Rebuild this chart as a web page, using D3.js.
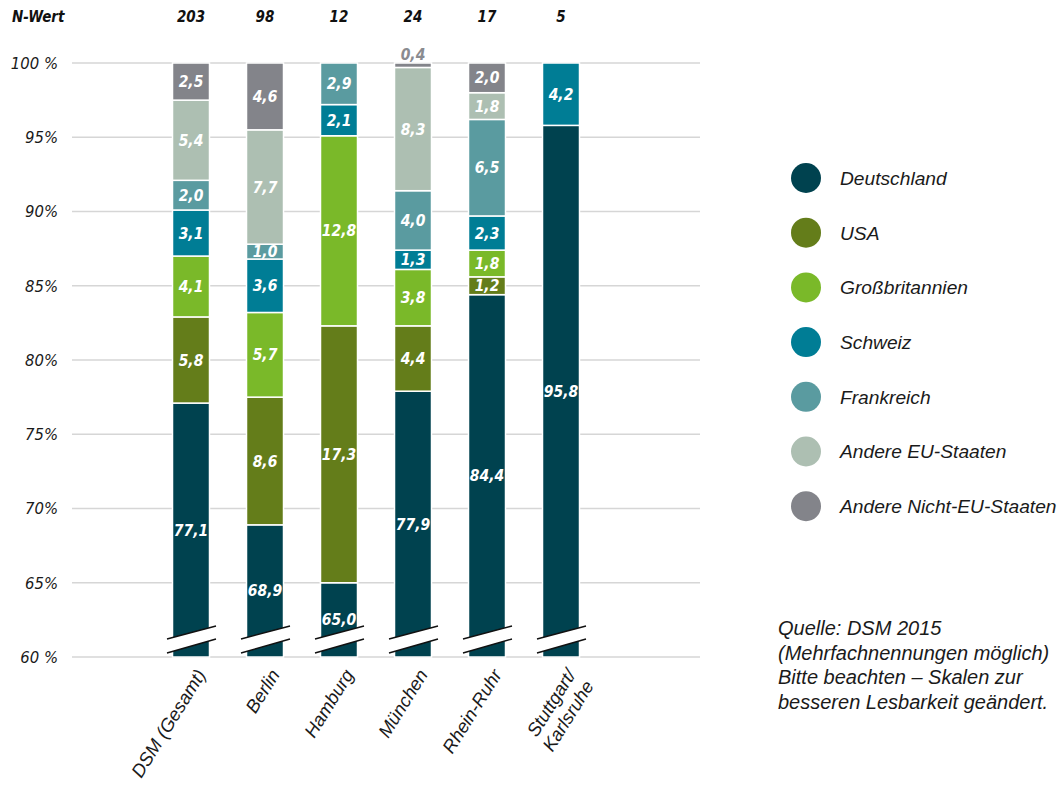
<!DOCTYPE html>
<html>
<head>
<meta charset="utf-8">
<script src="https://cdn.jsdelivr.net/npm/d3@7"></script>
<style>
  html, body { margin: 0; padding: 0; background: #fff; }
  svg { display: block; }
  .narrow { font-family: "Liberation Sans Narrow", "DejaVu Sans Condensed", "Liberation Sans", sans-serif; }
  .wide { font-family: "Liberation Sans", Arial, sans-serif; }
</style>
</head>
<body>
<svg id="chart" width="1062" height="785"></svg>
<script>
// Regions and sample sizes
const categories = ["DSM (Gesamt)", "Berlin", "Hamburg", "München", "Rhein-Ruhr", "Stuttgart/Karlsruhe"];
const nValues = [203, 98, 12, 24, 17, 5];

// Share of founders by origin, per region (%)
const seriesNames = ["Deutschland", "USA", "Großbritannien", "Schweiz", "Frankreich", "Andere EU-Staaten", "Andere Nicht-EU-Staaten"];
const deutschland = [77.1, 68.9, 65.0, 77.9, 84.4, 95.8];
const usa = [5.8, 8.6, 17.3, 4.4, 1.2, 0];
const grossbritannien = [4.1, 5.7, 12.8, 3.8, 1.8, 0];
const schweiz = [3.1, 3.6, 2.1, 1.3, 2.3, 4.2];
const frankreich = [2.0, 1.0, 2.9, 4.0, 6.5, 0];
const andereEU = [5.4, 7.7, 0, 8.3, 1.8, 0];
const andereNichtEU = [2.5, 4.6, 0, 0.4, 2.0, 0];

const yTicks = [60, 65, 70, 75, 80, 85, 90, 95, 100];
const yTickLabels = ["60 %", "65%", "70%", "75%", "80%", "85%", "90%", "95%", "100 %"];

const colors = ["#00424f", "#647d1a", "#7ab929", "#007d95", "#5a9ba0", "#adbfb2", "#83848a"];
const sourceLines = ["Quelle: DSM 2015", "(Mehrfachnennungen möglich)", "Bitte beachten – Skalen zur", "besseren Lesbarkeit geändert."];

// Build table for d3.stack
const seriesValues = [deutschland, usa, grossbritannien, schweiz, frankreich, andereEU, andereNichtEU];
const table = categories.map((c, i) => {
  const row = { cat: c };
  seriesNames.forEach((s, j) => row[s] = seriesValues[j][i]);
  return row;
});
const stacked = d3.stack().keys(seriesNames)(table);

const svg = d3.select("#chart");

const x = d3.scaleBand().domain(categories).range([154, 598]).paddingInner(0.5).paddingOuter(0.25);
const y = d3.scaleLinear().domain([60, 100]).range([657, 63]).clamp(true);
const color = d3.scaleOrdinal().domain(seriesNames).range(colors);
const fmt = v => d3.format(".1f")(v).replace(".", ",");
const cx = d => x(d) + x.bandwidth() / 2;

// Gridlines
svg.append("g").selectAll("line").data(yTicks).join("line")
  .attr("x1", 72).attr("x2", 700)
  .attr("y1", d => y(d)).attr("y2", d => y(d))
  .attr("stroke", "#d6d6d6").attr("stroke-width", 1.5);

// Y axis labels
svg.append("g").attr("class", "narrow").selectAll("text").data(yTicks).join("text")
  .attr("x", 58).attr("y", d => y(d)).attr("dy", "0.36em")
  .attr("text-anchor", "end").attr("font-style", "italic")
  .attr("font-size", 16.5).attr("fill", "#1a1a1a")
  .text((d, i) => yTickLabels[i]);

// N-Wert header
svg.append("text").attr("class", "narrow")
  .attr("x", 12).attr("y", 22)
  .attr("font-weight", "bold").attr("font-style", "italic").attr("font-size", 15)
  .attr("fill", "#111").text("N-Wert");
svg.append("g").attr("class", "narrow").selectAll("text").data(categories).join("text")
  .attr("x", cx).attr("y", 22)
  .attr("text-anchor", "middle")
  .attr("font-weight", "bold").attr("font-style", "italic").attr("font-size", 15)
  .attr("fill", "#111").text((d, i) => nValues[i]);

// Stacked bars
const layers = svg.append("g").selectAll("g").data(stacked).join("g")
  .attr("fill", d => color(d.key));
layers.selectAll("rect").data(d => d.filter(p => p[1] - p[0] > 0)).join("rect")
  .attr("x", d => x(d.data.cat))
  .attr("width", x.bandwidth())
  .attr("y", d => y(d[1]))
  .attr("height", d => y(d[0]) - y(d[1]))
  .attr("stroke", "#fff").attr("stroke-width", 1.5);

// Axis break marks at the foot of each bar
const breaks = svg.append("g").selectAll("g").data(categories).join("g")
  .attr("transform", d => `translate(${cx(d)},0)`);
breaks.append("path")
  .attr("d", "M-24,639 L25,626 L25,639 L-24,653 Z")
  .attr("fill", "#fff");
breaks.append("path")
  .attr("d", "M-24,639 L25,626 M-24,653 L25,639")
  .attr("stroke", "#111").attr("stroke-width", 1.4).attr("fill", "none");

// Value labels
const labelData = [];
stacked.forEach(layer => layer.forEach(p => {
  const v = p[1] - p[0];
  if (v > 0) labelData.push({ key: layer.key, v, cat: p.data.cat, y0: p[0], y1: p[1] });
}));
svg.append("g").attr("class", "narrow").selectAll("text").data(labelData).join("text")
  .attr("x", d => cx(d.cat))
  .attr("y", d => d.v < 0.9 ? y(d.y1) - 9 : (y(d.y0) + y(d.y1)) / 2)
  .attr("dy", "0.36em")
  .attr("text-anchor", "middle")
  .attr("font-weight", "bold").attr("font-style", "italic").attr("font-size", 15.5)
  .attr("fill", d => d.v < 0.9 ? "#8a8b90" : "#fff")
  .text(d => fmt(d.v));

// Category labels, rotated
const xl = svg.append("g").attr("class", "wide").selectAll("text").data(categories).join("text")
  .attr("transform", d => `translate(${cx(d) + 10},${671}) rotate(-58)`)
  .attr("text-anchor", "end")
  .attr("font-style", "italic").attr("font-size", 18.5).attr("fill", "#1a1a1a");
xl.each(function (d) {
  const parts = d === "Stuttgart/Karlsruhe" ? ["Stuttgart/", "Karlsruhe"] : [d];
  const t = d3.select(this);
  parts.forEach((p, i) => t.append("tspan").attr("x", 0).attr("dy", i === 0 ? "0.35em" : "1.15em").text(p));
});

// Legend
const legend = svg.append("g").selectAll("g").data(seriesNames).join("g")
  .attr("transform", (d, i) => `translate(806,${178 + i * 54.7})`);
legend.append("circle").attr("r", 15).attr("fill", d => color(d));
legend.append("text").attr("class", "wide")
  .attr("x", 34).attr("dy", "0.36em")
  .attr("font-style", "italic").attr("font-size", 19.2).attr("fill", "#1a1a1a")
  .text(d => d);

// Source note
svg.append("g").attr("class", "wide").selectAll("text").data(sourceLines).join("text")
  .attr("x", 778).attr("y", (d, i) => 635 + i * 24.5)
  .attr("font-style", "italic").attr("font-size", 20).attr("fill", "#1a1a1a")
  .text(d => d);
</script>
</body>
</html>
